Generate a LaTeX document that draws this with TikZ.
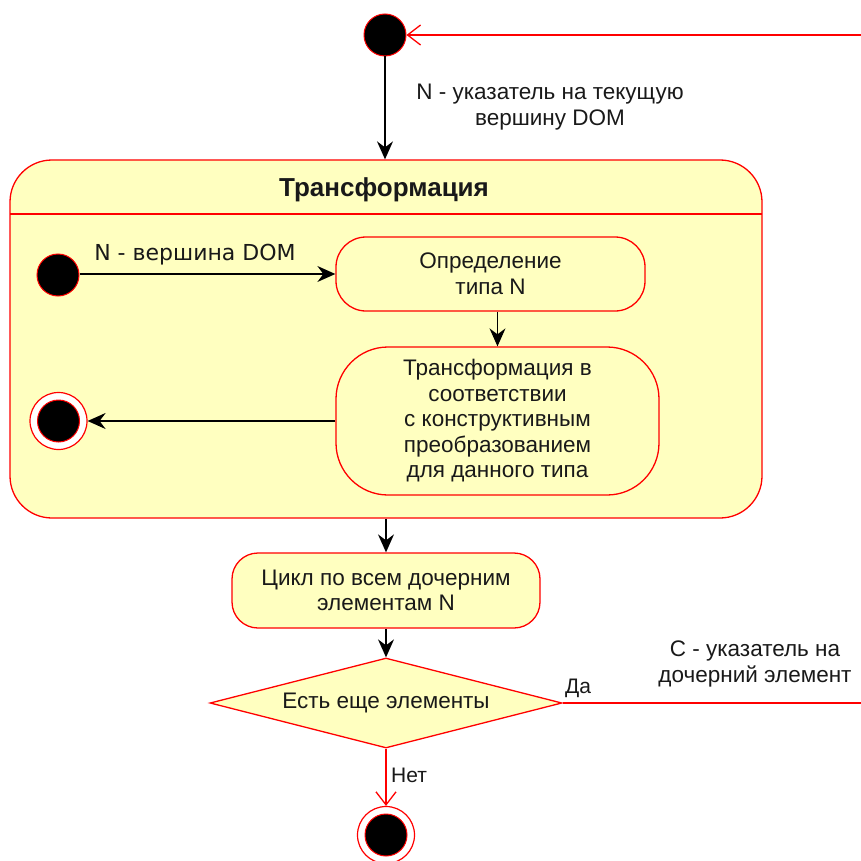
\documentclass[tikz,border=0pt]{standalone}
\usepackage{fontspec}
\setmainfont{Liberation Sans}
\newfontfamily\dejavu{DejaVu Sans}
\usetikzlibrary{arrows.meta,shapes.geometric}
\definecolor{stfill}{RGB}{255,255,192}
\definecolor{stred}{RGB}{255,0,0}
\definecolor{txtc}{RGB}{25,25,25}
\begin{document}
\begin{tikzpicture}[x=1pt,y=-1pt,
  txt/.style={font=\fontsize{22.5}{25.5}\selectfont, align=center, text=txtc, inner sep=0pt},
  statebox/.style={draw=stred, fill=stfill, line width=1.3pt, inner sep=0pt, align=center,
     font=\fontsize{22.5}{25.5}\selectfont, text=txtc},
  initnode/.style={circle, fill=black, draw=stred, line width=1pt, minimum size=42pt, inner sep=0pt},
  finouter/.style={circle, fill=white, draw=stred, line width=1.2pt, minimum size=57pt, inner sep=0pt},
  fininner/.style={circle, fill=black, draw=stred, line width=1pt, minimum size=42pt, inner sep=0pt},
  blackarrow/.style={draw=black, line width=1.4pt, -{Stealth[length=18pt,width=16pt,inset=6pt]}},
  redarrow/.style={draw=stred, line width=1.3pt, -{Straight Barb[length=13pt,width=20pt,line width=1.3pt]}},
  redline/.style={draw=stred, line width=1.3pt}]
\useasboundingbox (0,0) rectangle (861,861);

% top initial node and loop-in
\node[initnode] (init1) at (385,35) {};
\coordinate (loopin) at (861,35);
\draw[redarrow] (loopin) -- (init1);

% composite state
\node[statebox, rounded corners=42pt, minimum width=752pt, minimum height=358pt] (comp) at (386,339) {};
\coordinate (hdrL) at (10,214);
\coordinate (hdrR) at (762,214);
\draw[redline] (hdrL) -- (hdrR);
\node[txt, font=\bfseries\fontsize{26}{30}\selectfont] (title) at (384,190) {Трансформация};

\draw[blackarrow] (init1) -- (init1 |- comp.north);
\node[txt] (lbl1) at (550,107) {N - указатель на текущую\\вершину DOM};

% inner states
\node[initnode] (init2) at (58,275) {};
\node[statebox, rounded corners=30pt, minimum width=309pt, minimum height=74pt] (def) at (490.5,274) {Определение\\типа N};
\node[statebox, rounded corners=52pt, minimum width=323pt, minimum height=148pt] (trans) at (497.5,421) {Трансформация в\\соответствии\\с конструктивным\\преобразованием\\ для данного типа};
\node[finouter] (fin1o) at (58.5,421) {};
\node[fininner] (fin1) at (58.5,421) {};

\draw[blackarrow] (init2.east |- def.west) -- (def.west);
\node[txt, font=\dejavu\fontsize{22}{25}\selectfont] (lbl2) at (195,255) {N - вершина DOM};
\draw[blackarrow] (def.south -| trans.north) -- (trans.north);
\draw[blackarrow] (trans.west) -- (fin1o.east);

% loop box
\node[statebox, rounded corners=26pt, minimum width=308pt, minimum height=75pt] (cyc) at (386,590.5) {Цикл по всем дочерним\\элементам N};
\draw[blackarrow] (comp.south -| cyc.north) -- (cyc.north);

% decision
\node[diamond, draw=stred, fill=stfill, line width=1.3pt, minimum width=352pt, minimum height=90pt, inner sep=0pt] (dec) at (386,703) {};
\node[txt] (dectxt) at (386,703) {Есть еще элементы};
\draw[blackarrow] (cyc.south) -- (dec.north);

\coordinate (loopout) at (861,703);
\draw[redline] (dec.east) -- (loopout);
\node[txt, font=\fontsize{21}{24}\selectfont] (da) at (578,688) {Да};
\node[txt] (lbl3) at (755,664) {С - указатель на\\дочерний элемент};

% final node
\node[finouter] (fin2o) at (386,835) {};
\node[fininner] (fin2) at (386,835) {};
\draw[redarrow] (dec.south) -- (fin2o.north);
\node[txt, font=\fontsize{21}{24}\selectfont] (net) at (409,775) {Нет};
\end{tikzpicture}
\end{document}
